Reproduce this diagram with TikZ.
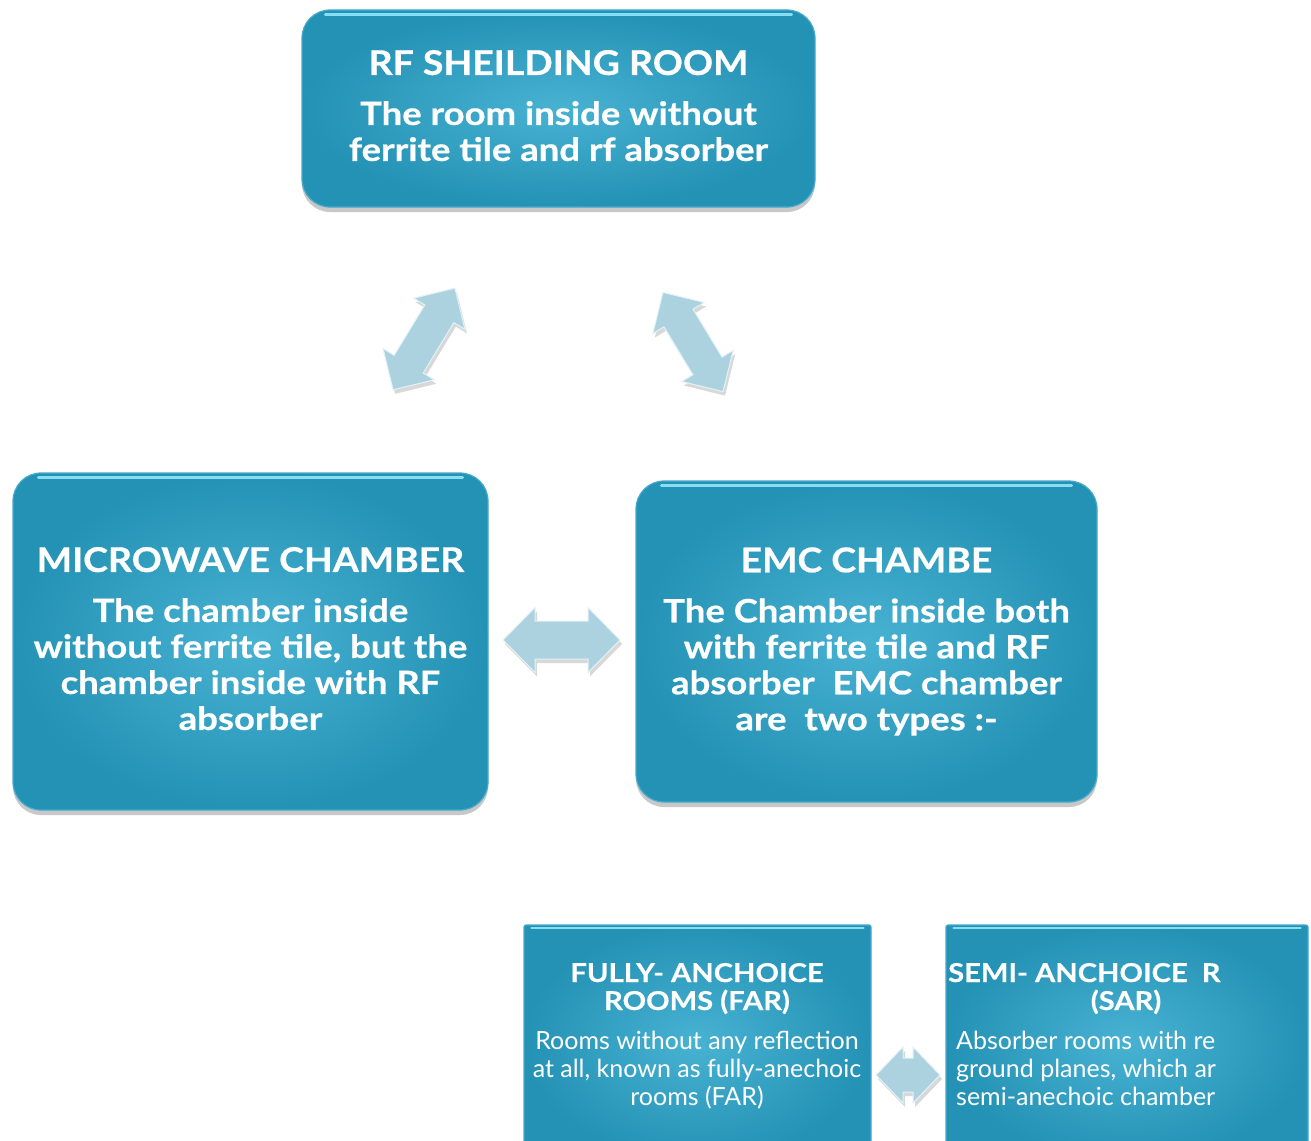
\documentclass[tikz,border=0pt]{standalone}
\usepackage{fontspec}
\setmainfont{Lato}
\newfontfamily\ttlfont{Lato}[FakeStretch=1.10, FakeBold=0.6]
\newfontfamily\bodyfont{Lato}[FakeStretch=1.14, FakeBold=0.6]
\newfontfamily\smttlfont{Lato}[FakeStretch=1.12, FakeBold=0.4]
\usetikzlibrary{shadows}
\definecolor{boxin}{RGB}{72,178,210}
\definecolor{boxout}{RGB}{36,146,181}
\definecolor{rim}{RGB}{70,170,205}
\definecolor{rimhi}{RGB}{135,222,242}
\definecolor{arrowfill}{RGB}{172,210,224}
\definecolor{arrowedge}{RGB}{226,242,247}
\begin{document}
\begin{tikzpicture}[x=1pt,y=-1pt,
  boxbase/.style={draw=rim, line width=1.2pt, inner color=boxin, outer color=boxout,
    drop shadow={shadow xshift=0pt, shadow yshift=-5pt, opacity=0.3, fill=black!70}},
  bigbox/.style={boxbase, rounded corners=28pt, text=white, align=center,
    font=\bodyfont\bfseries\fontsize{32}{36}\selectfont},
  sqbox/.style={boxbase, rounded corners=2pt},
  hilite/.style={draw=rimhi, line width=3pt, line cap=round},
  smallttl/.style={text=white, inner sep=0pt, font=\smttlfont\bfseries\fontsize{26}{28}\selectfont},
  smallbody/.style={text=white, inner sep=0pt, font=\fontsize{25}{28}\selectfont},
  pics/dblarrow/.style n args={4}{code={
    \path[fill=arrowfill, draw=arrowedge, line width=1pt,
      drop shadow={shadow xshift=2pt, shadow yshift=-4pt, opacity=0.25, fill=black!60}]
      (-#1/2,0) -- (-#1/2+#4,#2/2) -- (-#1/2+#4,#3/2) -- (#1/2-#4,#3/2) -- (#1/2-#4,#2/2)
      -- (#1/2,0) -- (#1/2-#4,-#2/2) -- (#1/2-#4,-#3/2) -- (-#1/2+#4,-#3/2) -- (-#1/2+#4,-#2/2) -- cycle;
  }}
]
\clip (0,0) rectangle (1311,1140);
\fill[white] (0,0) rectangle (1311,1140);

% main boxes
\node[bigbox, minimum width=513pt, minimum height=197pt, text depth=6pt] (rf) at (558.5,108.5)
  {{\ttlfont\fontsize{34}{36}\selectfont RF SHEILDING ROOM}\\[14pt]
   The room inside without\\ ferrite tile and rf absorber};
\node[bigbox, minimum width=475pt, minimum height=337pt, text depth=6pt] (mw) at (250.5,641.5)
  {{\ttlfont\fontsize{34}{36}\selectfont MICROWAVE CHAMBER}\\[14pt]
   The chamber inside\\ without ferrite tile, but the\\ chamber inside with RF\\ absorber};
\node[bigbox, minimum width=461pt, minimum height=321pt] (emc) at (866.5,641.5)
  {{\ttlfont\fontsize{34}{36}\selectfont EMC CHAMBE}\\[14pt]
   The Chamber inside both\\ with ferrite tile and RF\\ absorber\ \ EMC chamber\\ are\ \ two types :-};

% bottom boxes
\node[sqbox, minimum width=347pt, minimum height=235pt] (far) at (697.5,1042.5) {};
\node[sqbox, minimum width=362pt, minimum height=235pt] (sar) at (1127,1042.5) {};

% top highlights
\draw[hilite] ([xshift=24pt,yshift=-5pt]rf.north west) -- ([xshift=-24pt,yshift=-5pt]rf.north east);
\draw[hilite] ([xshift=26pt,yshift=-5pt]mw.north west) -- ([xshift=-26pt,yshift=-5pt]mw.north east);
\draw[hilite] ([xshift=26pt,yshift=-5pt]emc.north west) -- ([xshift=-26pt,yshift=-5pt]emc.north east);
\draw[hilite, line width=2pt] ([xshift=8pt,yshift=-4pt]far.north west) -- ([xshift=-8pt,yshift=-4pt]far.north east);
\draw[hilite, line width=2pt] ([xshift=8pt,yshift=-4pt]sar.north west) -- ([xshift=-8pt,yshift=-4pt]sar.north east);

\node[smallttl, anchor=base] (fart1) at (697,982) {FULLY- ANCHOICE};
\node[smallttl, anchor=base] (fart2) at (697,1010) {ROOMS (FAR)};
\node[smallbody, anchor=base] (farb1) at (697,1049) {Rooms without any reflection};
\node[smallbody, anchor=base] (farb2) at (697,1077) {at all, known as fully-anechoic};
\node[smallbody, anchor=base] (farb3) at (697,1105) {rooms (FAR)};

\node[smallttl, anchor=base west] (sart1) at (948,982) {SEMI- ANCHOICE\ \ R};
\node[smallttl, anchor=base] (sart2) at (1126,1010) {(SAR)};
\node[smallbody, anchor=base west] (sarb1) at (956,1049) {Absorber rooms with re};
\node[smallbody, anchor=base west] (sarb2) at (956,1077) {ground planes, which ar};
\node[smallbody, anchor=base west] (sarb3) at (956,1105) {semi-anechoic chamber};

% double arrows
\pic[rotate=58.7] at (424,339) {dblarrow={119}{60}{34}{30}};
\pic[rotate=-58.8] at (693,342) {dblarrow={116}{60}{34}{30}};
\pic at (561.5,640) {dblarrow={117}{65}{38}{32}};
\pic at (908,1075) {dblarrow={64}{56}{34}{27}};
\end{tikzpicture}
\end{document}
